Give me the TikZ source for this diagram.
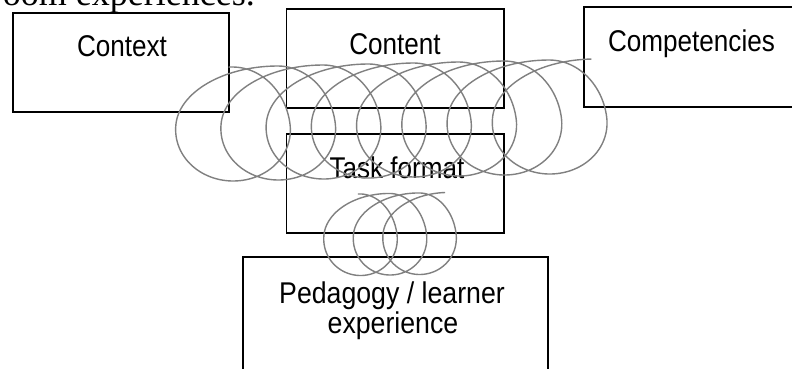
\documentclass[tikz,border=0pt]{standalone}
\usepackage{fontspec}
\usepackage{graphicx}
\newfontfamily\arialf{Liberation Sans}
\newfontfamily\timesf{Liberation Serif}
\definecolor{coilgray}{RGB}{128,128,128}
\newcommand\sqz[2][0.87]{\scalebox{#1}[1]{#2}}
\tikzset{
  boxnode/.style={draw=black, line width=1.8pt, inner sep=0pt, outer sep=0pt},
  lbl/.style={font=\arialf\fontsize{30}{30}\selectfont, inner sep=0pt, anchor=base},
  coil/.style={draw=coilgray, line width=1.4pt, smooth, variable=\t},
}
\begin{document}
\begin{tikzpicture}[x=1pt,y=-1pt]
\useasboundingbox (0,0) rectangle (792,368);
\clip (0,0) rectangle (792,368);
\fill[white] (0,0) rectangle (792,368);
% cut-off line of the surrounding text
\node[font=\timesf\fontsize{36}{36}\selectfont, inner sep=0pt, anchor=base east] (toptext) at (255,5) {classroom experiences.};
% boxes
\node[boxnode, minimum width=216.6pt, minimum height=99.5pt] (context) at (121,62.45) {};
\node[boxnode, minimum width=217.5pt, minimum height=99pt] (content) at (395.25,58.8) {};
\node[boxnode, minimum width=215.7pt, minimum height=100pt] (comp) at (692.15,56.7) {};
\node[boxnode, minimum width=217.5pt, minimum height=98.7pt] (task) at (395.25,183.35) {};
\node[boxnode, minimum width=305.6pt, minimum height=123.3pt] (ped) at (395.5,318.35) {};
% labels
\node[lbl] (tcontext) at (122,56.7) {\sqz{Context}};
\node[lbl] (tcontent) at (395,54.7) {\sqz{Content}};
\node[lbl] (tcomp) at (691.5,51.5) {\sqz{Competencies}};
\node[lbl] (ttask) at (397,178.8) {\sqz{Task format}};
\node[lbl] (tped1) at (392,303.3) {\sqz[0.89]{Pedagogy / learner}};
\node[lbl] (tped2) at (393,333.3) {\sqz[0.89]{experience}};
% coils
\draw[coil, domain=-3.18:47.10, samples=1000]
  plot ({233 + 7.2*\t - 68.3*sin(\t r) + ifthenelse(cos(\t r)<0, 22*(1-abs(sin(\t r))), 0)},
        {123.75 - 0.159*\t + 57.25*cos(\t r)});
\draw[coil, domain=-3.17:15.655, samples=400]
  plot ({360.5 + 4.7*\t - 43.9*sin(\t r) + ifthenelse(cos(\t r)<0, 14*(1-abs(sin(\t r))), 0)},
        {234.6 - 0.08*\t + 40.9*cos(\t r)});
\end{tikzpicture}
\end{document}
